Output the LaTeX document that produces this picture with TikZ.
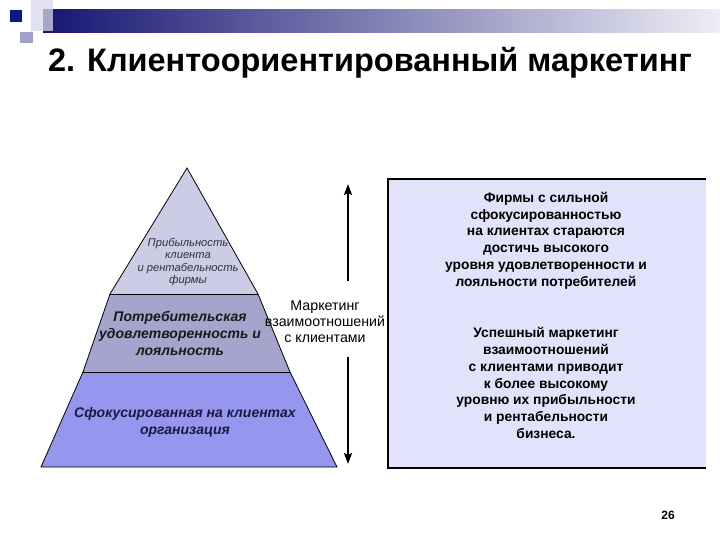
\documentclass[tikz,border=0pt]{standalone}
\usepackage{fontspec}
\setmainfont{Liberation Sans}
\usetikzlibrary{arrows.meta}
\definecolor{toplayer}{RGB}{204,204,228}
\definecolor{midlayer}{RGB}{164,164,204}
\definecolor{botlayer}{RGB}{150,150,238}
\definecolor{boxfill}{RGB}{226,226,250}
\definecolor{barleft}{RGB}{22,22,115}
\definecolor{barright}{RGB}{238,238,246}
\definecolor{sqdark}{RGB}{20,20,140}
\definecolor{sqmid}{RGB}{160,160,200}
\definecolor{sqpale}{RGB}{215,215,236}
\definecolor{toptext}{RGB}{50,50,60}
\definecolor{bottext}{RGB}{25,25,70}
\begin{document}
\begin{tikzpicture}[x=1pt,y=-1pt,
  layer/.style={draw=black,line width=0.8pt},
  boxtext/.style={align=center,font=\fontsize{13.8}{16.8}\selectfont\bfseries,text=black},
  pyrtext/.style={align=center,font=\fontsize{14}{17}\selectfont\bfseries\itshape},
  bigarrow/.style={line width=2.6pt,-{Stealth[length=11pt,width=8pt,inset=2pt]}}]
\useasboundingbox (0,0) rectangle (720,540);
% header decoration
\shade[left color=barleft,right color=barright] (43,10) rectangle (720,33);
\fill[sqpale,opacity=0.75] (31,0) rectangle (53,31);
\fill[sqmid] (20,32) rectangle (33,43);
\fill[sqdark] (10,10) rectangle (22,22);
% title
\node[anchor=base,font=\fontsize{32.5}{36}\selectfont\bfseries] (title) at (370,72) {2. Клиентоориентированный маркетинг};
% pyramid coordinates
\coordinate (apex) at (187,168);
\coordinate (tl) at (110,294);
\coordinate (tr) at (258,294);
\coordinate (ml) at (83,372);
\coordinate (mr) at (290,372);
\coordinate (bl) at (41,467);
\coordinate (br) at (337,467);
\fill[botlayer] (ml) -- (mr) -- (br) -- (bl) -- cycle;
\fill[midlayer] (tl) -- (tr) -- (mr) -- (ml) -- cycle;
\fill[toplayer] (apex) -- (tr) -- (tl) -- cycle;
\draw[layer] (apex) -- (tr) -- (mr) -- (br) -- (bl) -- (ml) -- (tl) -- cycle;
\draw[layer] (tl) -- (tr);
\draw[layer] (ml) -- (mr);
% pyramid texts
\node[align=center,font=\fontsize{11.2}{12.2}\selectfont\itshape,text=toptext] (t1) at (188,262) {Прибыльность\\клиента\\и рентабельность\\фирмы};
\node[pyrtext,text=black!90] (t2) at (180,333) {Потребительская\\удовлетворенность и\\лояльность};
\node[pyrtext,text=bottext] (t3) at (185,422) {Сфокусированная на клиентах\\организация};
% arrows and label
\coordinate (upstart) at (348,281);
\coordinate (upend) at (348,184);
\coordinate (downstart) at (348,357);
\coordinate (downend) at (348,464);
\draw[bigarrow] (upstart) -- (upend);
\draw[bigarrow] (downstart) -- (downend);
\node[align=center,font=\fontsize{14.2}{16}\selectfont] (mk) at (325,322) {Маркетинг\\взаимоотношений\\с клиентами};
% right box
\fill[boxfill] (388,179) rectangle (706,468);
\draw[line width=1.2pt] (706,179) -- (388,179) -- (388,468) -- (706,468);
\node[boxtext] (b1) at (546,240.5) {Фирмы с сильной\\сфокусированностью\\на клиентах стараются\\достичь высокого\\уровня удовлетворенности и\\лояльности потребителей};
\node[boxtext] (b2) at (546,383) {Успешный маркетинг\\взаимоотношений\\с клиентами приводит\\к более высокому\\уровню их прибыльности\\и рентабельности\\бизнеса.};
% page number
\node[font=\fontsize{12}{14}\selectfont\bfseries] (pg) at (668,515) {26};
\end{tikzpicture}
\end{document}
